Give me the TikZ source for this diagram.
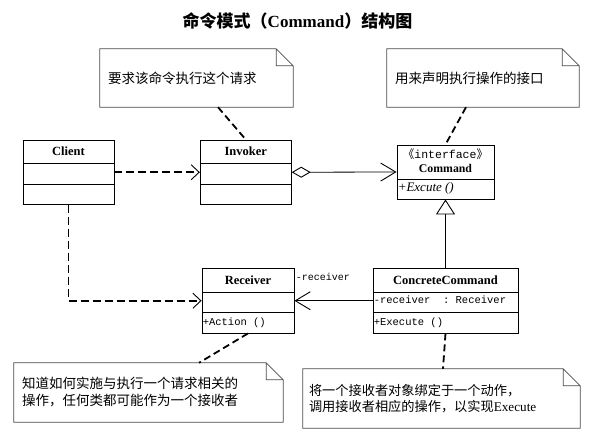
\documentclass[tikz,border=0pt]{standalone}
\usepackage{fontspec}
\setmainfont{Liberation Serif}
\setmonofont{Liberation Mono}
\newfontfamily\cjk{Noto Sans CJK SC}
\usetikzlibrary{arrows.meta}

\tikzset{
	cls/.style={draw, line width=0.9pt, fill=white, inner sep=0pt, minimum height=64.5pt},
	twodiv/.style={path picture={
		\draw[line width=0.9pt] ([yshift=-23.5pt]path picture bounding box.north west) -- ([yshift=-23.5pt]path picture bounding box.north east);
		\draw[line width=0.9pt] ([yshift=20.5pt]path picture bounding box.south west) -- ([yshift=20.5pt]path picture bounding box.south east);}},
	onediv/.style={path picture={
		\draw[line width=0.9pt] ([yshift=20pt]path picture bounding box.south west) -- ([yshift=20pt]path picture bounding box.south east);}},
	clsname/.style={font=\fontsize{12.5}{15}\selectfont\bfseries, inner sep=0pt},
	member/.style={font=\fontsize{10.5}{12}\selectfont\ttfamily, anchor=west, inner sep=1pt},
	note/.style={fill=white, inner xsep=8pt, align=left, font=\cjk\fontsize{13.5}{17}\selectfont},
	notefrm/.style={draw=black!70, line width=0.7pt},
	notelink/.style={line width=1.8pt, dash pattern=on 7pt off 4pt},
	dep/.style={line width=1.8pt, dash pattern=on 8pt off 4pt,
		-{Straight Barb[length=8pt, width=15pt, line width=0.9pt]}},
	aggr/.style={line width=0.8pt,
		{Diamond[open, length=19pt, width=11pt, line width=0.9pt]}-{Straight Barb[length=15pt, width=18pt, line width=0.9pt]}},
	assoc/.style={line width=0.8pt, -{Straight Barb[length=15pt, width=18pt, line width=0.9pt]}},
	inherit/.style={line width=0.9pt, -{Triangle[open, length=15pt, width=19pt, line width=0.9pt]}},
}

\begin{document}
\begin{tikzpicture}[x=1pt, y=-1pt]

	\def\fold{17pt}

	\fill[white] (0,0) rectangle (600,441);
	\useasboundingbox (0,0) rectangle (600,441);

	% title
	\node[font=\cjk\bfseries\fontsize{17}{20}\selectfont] (title) at (297.5,21)
	{命令模式（{\rmfamily Command}）结构图};

	% classes
	\node[cls, twodiv, minimum width=91pt] (client) at (68.5,172.25) {};
	\node[clsname] (clientname) at ([yshift=-12pt]client.north) {Client};

	\node[cls, twodiv, minimum width=91pt] (invoker) at (245.75,172.25) {};
	\node[clsname] (invokername) at ([yshift=-12pt]invoker.north) {Invoker};

	\node[cls, onediv, minimum width=97pt, minimum height=54pt] (cmd) at (445.5,172) {};
	\node[font=\fontsize{11.5}{13}\selectfont\ttfamily, inner sep=0pt] (stereo)
	at ([yshift=-9.5pt]cmd.north) {{\cjk 《}interface{\cjk 》}};
	\node[clsname, font=\fontsize{11.8}{14}\selectfont\bfseries] (cmdname)
	at ([yshift=-24pt]cmd.north) {Command};
	\node[member, font=\fontsize{13}{15}\selectfont\itshape] (excuteop)
	at ([yshift=11pt]cmd.south west) {+Excute ()};

	\node[cls, twodiv, minimum width=92pt] (receiver) at (248,300.75) {};
	\node[clsname] (receivername) at ([yshift=-12pt]receiver.north) {Receiver};
	\node[member] (actionop) at ([yshift=11pt]receiver.south west) {+Action ()};

	\node[cls, twodiv, minimum width=145pt] (ccmd) at (445.5,300.75) {};
	\node[clsname] (ccmdname) at ([yshift=-12pt]ccmd.north) {ConcreteCommand};
	\node[member] (rcvattr) at ([yshift=-32pt]ccmd.north west) {-receiver\ \ : Receiver};
	\node[member] (execop) at ([yshift=11pt]ccmd.south west) {+Execute ()};

	% notes
	\node[note, minimum width=193pt, minimum height=58pt, text width=177pt] (reqnote)
	at (196.5,78) {要求该命令执行这个请求};
	\draw[notefrm] (reqnote.north west) -- ([xshift=-\fold]reqnote.north east)
	-- ([yshift=-\fold]reqnote.north east) -- (reqnote.south east) -- (reqnote.south west) -- cycle
	([xshift=-\fold]reqnote.north east) |- ([yshift=-\fold]reqnote.north east);

	\node[note, minimum width=192pt, minimum height=58pt, text width=176pt] (ifnote)
	at (483,78) {用来声明执行操作的接口};
	\draw[notefrm] (ifnote.north west) -- ([xshift=-\fold]ifnote.north east)
	-- ([yshift=-\fold]ifnote.north east) -- (ifnote.south east) -- (ifnote.south west) -- cycle
	([xshift=-\fold]ifnote.north east) |- ([yshift=-\fold]ifnote.north east);

	\node[note, minimum width=269pt, minimum height=59pt, text width=253pt] (rcvnote)
	at (148.5,392.5) {知道如何实施与执行一个请求相关的\\操作，任何类都可能作为一个接收者};
	\draw[notefrm] (rcvnote.north west) -- ([xshift=-\fold]rcvnote.north east)
	-- ([yshift=-\fold]rcvnote.north east) -- (rcvnote.south east) -- (rcvnote.south west) -- cycle
	([xshift=-\fold]rcvnote.north east) |- ([yshift=-\fold]rcvnote.north east);

	\node[note, font=\cjk\fontsize{13.2}{16.5}\selectfont, minimum width=277pt, minimum height=59pt,
	text width=265pt, inner xsep=6pt] (bindnote)
	at (441.5,398.5) {将一个接收者对象绑定于一个动作，\\调用接收者相应的操作，以实现{\rmfamily Execute}};
	\draw[notefrm] (bindnote.north west) -- ([xshift=-\fold]bindnote.north east)
	-- ([yshift=-\fold]bindnote.north east) -- (bindnote.south east) -- (bindnote.south west) -- cycle
	([xshift=-\fold]bindnote.north east) |- ([yshift=-\fold]bindnote.north east);

	% note links
	\draw[notelink] ([xshift=21.5pt]reqnote.south) -- (invoker.north);
	\draw[notelink] ([xshift=-17pt]ifnote.south) -- (cmd.north);
	\draw[notelink] (receiver.south) -- ([xshift=50.5pt]rcvnote.north);
	\draw[notelink] (ccmd.south) -- ([xshift=1.5pt]bindnote.north);

	% relations
	\draw[dep] (client.east) -- (invoker.west);
	\draw[dep] (client.south) |- (receiver.west);
	\draw[aggr] (invoker.east) -- (cmd.west);
	\draw[assoc] (ccmd.west) -- (receiver.east)
	node[at end, member, font=\fontsize{10}{12}\selectfont\ttfamily, yshift=24pt] (rolelbl) {-receiver};
	\draw[inherit] (ccmd.north) -- (cmd.south);

\end{tikzpicture}
\end{document}
